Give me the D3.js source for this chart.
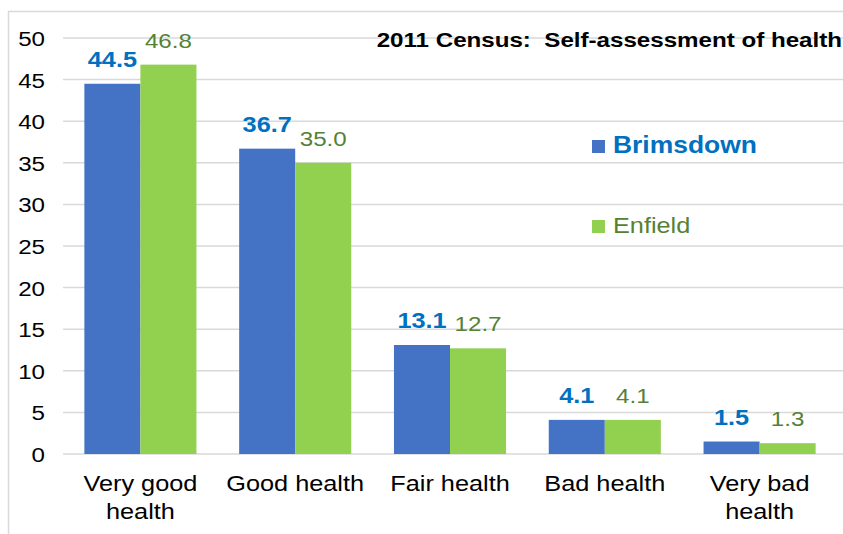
<!DOCTYPE html>
<html><head><meta charset="utf-8">
<script src="https://cdn.jsdelivr.net/npm/d3@7"></script>
<style>body{margin:0;background:#fff}svg{display:block;font-family:"Liberation Sans",Arial,sans-serif}</style>
</head><body><svg id="c" width="843" height="534"></svg>
<script>
const categories = [["Very good","health"],["Good health"],["Fair health"],["Bad health"],["Very bad","health"]];
const brimsdown = [44.5, 36.7, 13.1, 4.1, 1.5];
const enfield = [46.8, 35.0, 12.7, 4.1, 1.3];
const yTicks = [0,5,10,15,20,25,30,35,40,45,50];
const seriesNames = ["Brimsdown","Enfield"];

(function(){
const SX = 1.15;
const svg = d3.select("#c");
const pL = 63, pR = 837, pT = 38, pB = 454;
svg.append("rect").attr("x",8.5).attr("y",11.5).attr("width",850).attr("height",540)
  .attr("fill","#fff").attr("stroke","#d9d9d9").attr("stroke-width",1.5);

const x = d3.scaleBand().domain(d3.range(categories.length)).range([pL,pR]).paddingInner(0.276).paddingOuter(0.138);
const y = d3.scaleLinear().domain([0,50]).range([pB,pT]);

svg.append("g").selectAll("line").data(yTicks).join("line")
  .attr("x1",pL).attr("x2",843).attr("y1",d=>y(d)).attr("y2",d=>y(d))
  .attr("stroke","#d9d9d9").attr("stroke-width",1.5);

const yAxis = d3.axisLeft(y).tickValues(yTicks).tickSize(0).tickPadding(0);
const ga = svg.append("g").attr("transform",`translate(45,0)`).call(yAxis);
ga.select(".domain").remove();
ga.selectAll("text").attr("font-size",21).attr("fill","#000")
  .attr("font-family","Liberation Sans, Arial, sans-serif").attr("dy","0.36em")
  .attr("transform",`scale(${SX},1)`);

const colors = ["#4472C4","#92D050"];
const labelColors = ["#0070C0","#548235"];
const xs = d3.scaleBand().domain([0,1]).range([0,x.bandwidth()]);
const data = [brimsdown, enfield];
data.forEach((vals,s)=>{
  svg.append("g").selectAll("rect").data(vals).join("rect")
    .attr("x",(d,i)=>x(i)+xs(s)).attr("width",xs.bandwidth())
    .attr("y",d=>y(d)).attr("height",d=>y(0)-y(d)).attr("fill",colors[s]);
  svg.append("g").selectAll("text").data(vals).join("text")
    .attr("transform",(d,i)=>`translate(${x(i)+xs(s)+xs.bandwidth()/2},${y(d)-17}) scale(${SX},1)`)
    .attr("text-anchor","middle").attr("font-size",s===0?22:21)
    .attr("font-weight",s===0?"bold":"normal").attr("fill",labelColors[s])
    .text(d=>d.toFixed(1));
});

const xl = svg.append("g").selectAll("text").data(categories).join("text")
  .attr("transform",(d,i)=>`translate(${x(i)+x.bandwidth()/2},491) scale(${SX},1)`)
  .attr("text-anchor","middle").attr("font-size",22).attr("fill","#000");
xl.selectAll("tspan").data(d=>d).join("tspan")
  .attr("x",0).attr("y",(d,i)=>i*28).text(d=>d);

svg.append("text").attr("transform",`translate(842,46.5) scale(${SX},1)`).attr("text-anchor","end")
  .attr("font-size",21).attr("font-weight","bold").attr("fill","#000")
  .style("white-space","pre")
  .text("2011 Census:  Self-assessment of health");

const leg = [{y:140,bold:true,fs:23},{y:220,bold:false,fs:22}];
seriesNames.forEach((n,i)=>{
  svg.append("rect").attr("x",592).attr("y",leg[i].y).attr("width",13).attr("height",13).attr("fill",colors[i]);
  svg.append("text").attr("transform",`translate(613,${leg[i].y+13}) scale(${SX},1)`).attr("font-size",leg[i].fs)
    .attr("font-weight",leg[i].bold?"bold":"normal").attr("fill",labelColors[i]).text(n);
});
})();
</script></body></html>
